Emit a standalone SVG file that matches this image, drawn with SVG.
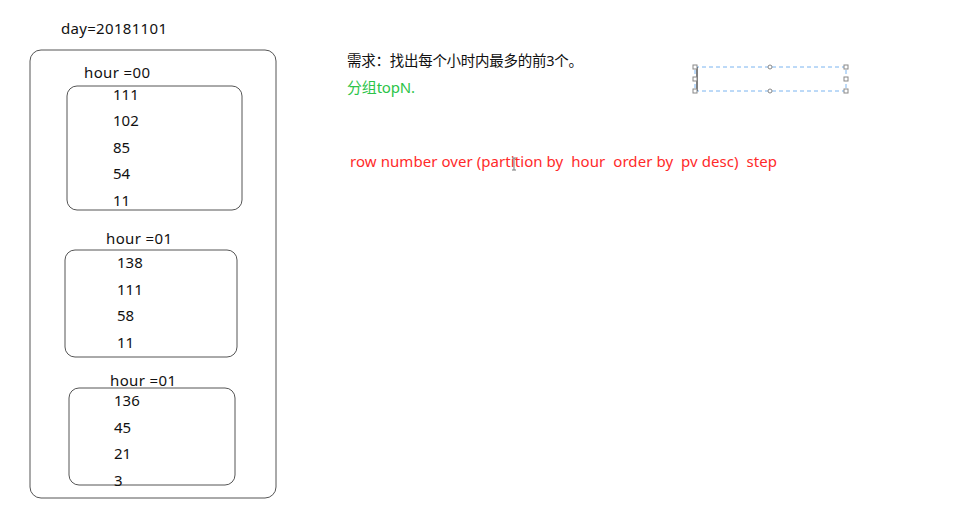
<svg xmlns="http://www.w3.org/2000/svg" width="953" height="527" viewBox="0 0 953 527">
<style>
text{font-family:"Noto Sans","Noto Sans CJK SC",sans-serif;font-size:15px;fill:#111;white-space:pre}
.box{fill:none;stroke:#555;stroke-width:1}
.g{fill:#2bc448}
.r{fill:#ff2a2a}
.h{fill:#fff;stroke:#888;stroke-width:1}
</style>
<rect width="953" height="527" fill="#fff"/>
<g id="day">
<text x="61" y="34" textLength="106">day=20181101</text>
<rect class="box" x="30" y="50" width="246" height="448" rx="11"/>
</g>
<g id="hour00">
<text x="84" y="78" textLength="66">hour =00</text>
<rect class="box" x="67" y="86" width="175" height="124" rx="10"/>
<text x="113" y="100">111</text>
<text x="113" y="126">102</text>
<text x="113" y="153">85</text>
<text x="113" y="179">54</text>
<text x="113" y="206">11</text>
</g>
<g id="hour01a">
<text x="106" y="244" textLength="66">hour =01</text>
<rect class="box" x="65" y="250" width="172" height="107" rx="10"/>
<text x="117" y="268">138</text>
<text x="117" y="295">111</text>
<text x="117" y="321">58</text>
<text x="117" y="348">11</text>
</g>
<g id="hour01b">
<text x="110" y="386" textLength="66">hour =01</text>
<rect class="box" x="69" y="388" width="166" height="97" rx="10"/>
<text x="114" y="406">136</text>
<text x="114" y="433">45</text>
<text x="114" y="459">21</text>
<text x="114" y="486">3</text>
</g>
<g id="notes">
<text x="347" y="66" style="font-size:14.5px" textLength="236">需求：找出每个小时内最多的前3个。</text>
<text class="g" x="347" y="93" textLength="68">分组topN.</text>
<text class="r" x="350" y="167" textLength="427">row number over (partition by  hour  order by  pv desc)  step</text>
<path d="M512 158h4M514 158v12M512 170h4" stroke="#777" stroke-width="1" fill="none"/>
</g>
<g id="selection">
<rect x="695" y="67" width="151" height="24" fill="none" stroke="#7ab4f0" stroke-width="1" stroke-dasharray="4,3"/>
<line x1="697" y1="67" x2="697" y2="91" stroke="#000" stroke-width="1"/>
<rect class="h" x="693" y="65" width="4" height="4"/>
<rect class="h" x="844" y="65" width="4" height="4"/>
<rect class="h" x="693" y="77" width="4" height="4"/>
<rect class="h" x="844" y="77" width="4" height="4"/>
<rect class="h" x="693" y="89" width="4" height="4"/>
<rect class="h" x="844" y="89" width="4" height="4"/>
<circle class="h" cx="770" cy="67" r="2"/>
<circle class="h" cx="770" cy="91" r="2"/>
</g>
</svg>
